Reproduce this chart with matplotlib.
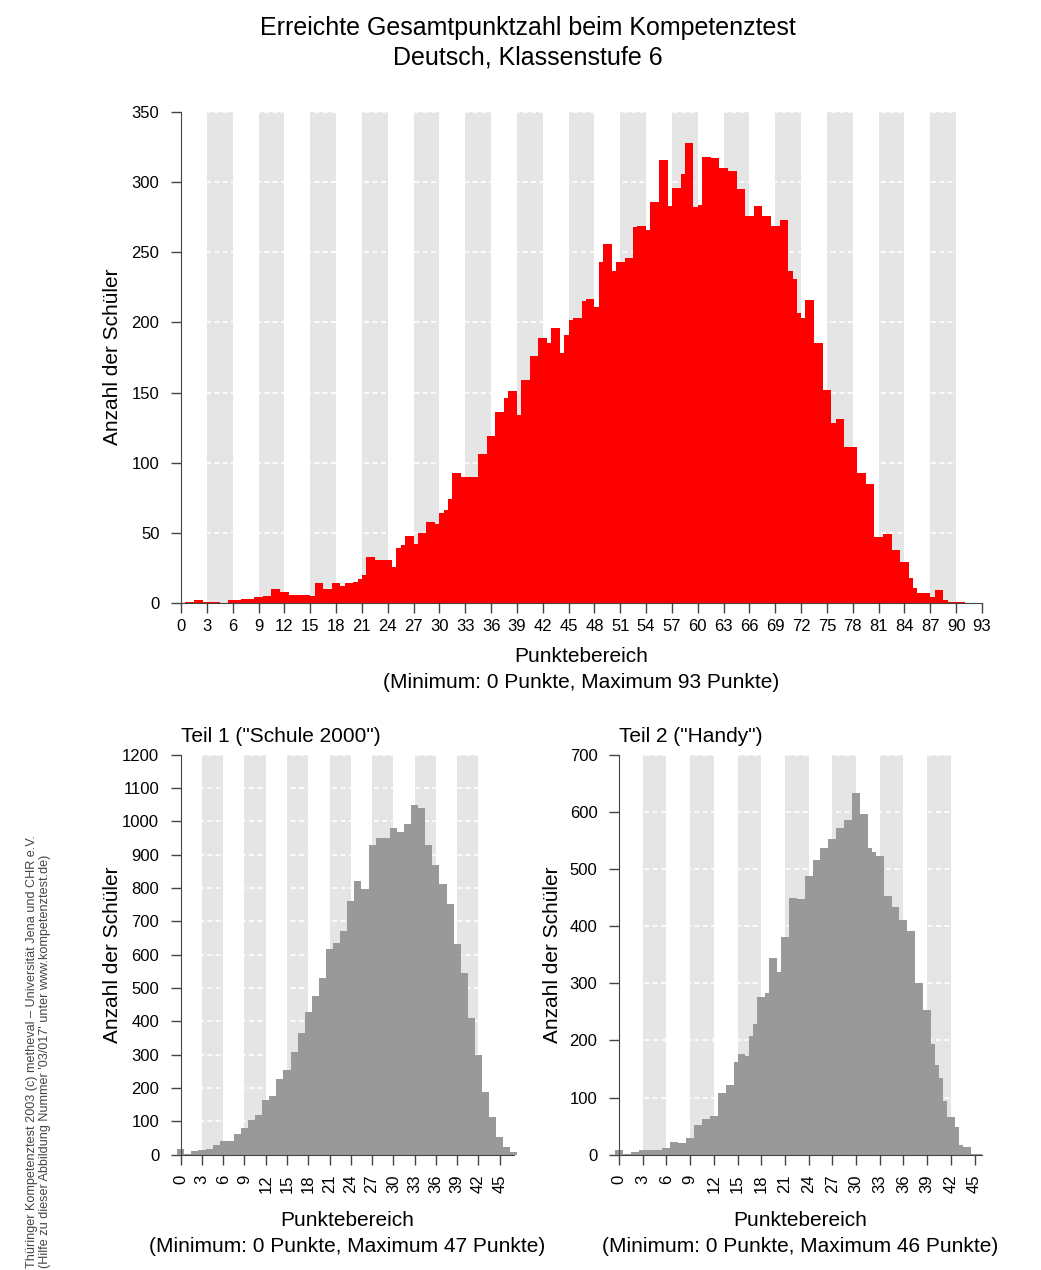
import numpy as np
import matplotlib.pyplot as plt

plt.rcParams['font.family'] = ['Liberation Sans', 'DejaVu Sans']

W, H = 1041, 1270

# Gesamtpunktzahl, counts per half-point bin starting at 0
total_counts = [
    0, 1, 1, 2, 2, 1, 1, 1, 1, 0, 0, 2, 2, 2, 3, 3, 3, 4, 4, 5,
    5, 10, 10, 8, 8, 6, 6, 6, 6, 6, 5, 14, 14, 10, 10, 14, 14, 12, 14, 14,
    15, 17, 20, 33, 33, 31, 31, 31, 31, 26, 39, 41, 48, 48, 42, 50, 50, 58, 58, 56,
    64, 66, 74, 93, 93, 90, 90, 90, 90, 106, 106, 119, 119, 136, 136, 146, 151, 151, 134, 159,
    159, 176, 176, 189, 189, 185, 196, 196, 178, 191, 202, 203, 203, 215, 217, 217, 211, 243, 256, 256,
    237, 243, 243, 246, 246, 268, 269, 269, 266, 286, 286, 316, 316, 283, 296, 296, 306, 328, 328, 282,
    284, 318, 318, 317, 317, 310, 310, 308, 308, 295, 295, 276, 276, 283, 283, 276, 276, 269, 269, 273,
    273, 237, 231, 207, 203, 216, 216, 185, 185, 152, 152, 128, 131, 131, 111, 111, 111, 93, 93, 85,
    85, 47, 47, 49, 49, 38, 38, 29, 29, 18, 11, 7, 7, 7, 4, 9, 9, 2, 1, 1,
    1, 1, 0, 0, 0, 0,
]

# Teil 1 ("Schule 2000"), counts per point 0..47
teil1_counts = [
    17, 3, 11, 14, 17, 29, 41, 41, 62, 80, 105, 119, 164, 176, 227, 254,
    308, 365, 428, 476, 530, 617, 635, 671, 761, 821, 797, 929, 950, 950, 980, 968,
    992, 1049, 1040, 929, 869, 812, 752, 632, 545, 410, 299, 188, 113, 53, 23, 8,
]

# Teil 2 ("Handy"), counts per half-point bin starting at -0.5
teil2_counts = [
    9, 9, 2, 2, 5, 5, 8, 8, 8, 8, 8, 8, 12, 12, 22, 22, 20, 20, 30, 30,
    52, 52, 62, 62, 67, 67, 108, 108, 122, 122, 162, 176, 176, 173, 208, 229, 276, 276, 283, 344,
    344, 320, 381, 381, 449, 449, 447, 447, 488, 488, 516, 516, 537, 537, 552, 552, 572, 572, 586, 586,
    633, 633, 596, 596, 537, 530, 523, 523, 453, 453, 433, 433, 411, 411, 391, 391, 300, 300, 253, 253,
    194, 157, 134, 94, 66, 66, 48, 17, 13, 13, 1, 1, 1,
]

RED = '#FF0000'
GREY = '#999999'
BAND = '#E5E5E5'
AXC = '#444444'

fig = plt.figure(figsize=(W / 100, H / 100), dpi=100)


def px_axes(x0, y0, x1, y1):
    return fig.add_axes([x0 / W, 1 - y1 / H, (x1 - x0) / W, (y1 - y0) / H])


def style_axes(ax, xmax, ymax, ystep, rotate):
    # grey bands every other 3-point interval
    for s in np.arange(3, xmax - 2, 6):
        ax.axvspan(s, s + 3, color=BAND, lw=0, zorder=1)
    for y in np.arange(ystep, ymax + 1, ystep):
        ax.axhline(y, color='white', lw=1.2, ls=(0, (3, 2)), zorder=1.5)

    ax.set_facecolor('none')
    for side in ['top', 'right']:
        ax.spines[side].set_visible(False)
    ax.spines['left'].set_position(('data', 0))
    ax.spines['bottom'].set_position(('data', 0))
    ax.spines['left'].set_bounds(0, ymax)
    ax.spines['bottom'].set_bounds(0, xmax)
    for side in ['left', 'bottom']:
        ax.spines[side].set_color(AXC)
        ax.spines[side].set_zorder(3)

    ax.set_xticks(np.arange(0, xmax + 1, 3))
    ax.set_yticks(np.arange(0, ymax + 1, ystep))
    ax.tick_params(direction='out', length=7.5, width=1, color=AXC, labelsize=12)
    ax.tick_params(axis='y', pad=8)
    if rotate:
        ax.tick_params(axis='x', labelrotation=90, pad=7)
    else:
        ax.tick_params(axis='x', pad=4)


# -----------------------------
# top: Gesamtpunktzahl
# -----------------------------
ax = px_axes(181, 112, 982, 603)
edges = np.arange(len(total_counts) + 1) * 0.5
ax.stairs(total_counts, edges, fill=True, color=RED, lw=0, zorder=2)
ax.set_xlim(0, 93)
ax.set_ylim(0, 350)
style_axes(ax, 93, 350, 50, False)

fig.text(528 / W, 1 - 28 / H, 'Erreichte Gesamtpunktzahl beim Kompetenztest',
         ha='center', va='center', fontsize=18)
fig.text(528 / W, 1 - 58 / H, 'Deutsch, Klassenstufe 6',
         ha='center', va='center', fontsize=18)
fig.text(113 / W, 1 - 357 / H, 'Anzahl der Schüler', rotation=90,
         ha='center', va='center', fontsize=15)
fig.text(581 / W, 1 - 657 / H, 'Punktebereich', ha='center', va='center', fontsize=15)
fig.text(581 / W, 1 - 682 / H, '(Minimum: 0 Punkte, Maximum 93 Punkte)',
         ha='center', va='center', fontsize=15)

# -----------------------------
# bottom left: Teil 1
# -----------------------------
ax1 = px_axes(173.6, 754.7, 521.0, 1154.7)
edges1 = np.arange(len(teil1_counts) + 1) - 0.5
ax1.stairs(teil1_counts, edges1, fill=True, color=GREY, lw=0, zorder=2)
ax1.set_xlim(-1, 48)
ax1.set_ylim(0, 1200)
style_axes(ax1, 47, 1200, 100, True)

fig.text(181 / W, 1 - 737 / H, 'Teil 1 ("Schule 2000")', ha='left', va='center', fontsize=15)
fig.text(113 / W, 1 - 955 / H, 'Anzahl der Schüler', rotation=90,
         ha='center', va='center', fontsize=15)
fig.text(347 / W, 1 - 1221 / H, 'Punktebereich', ha='center', va='center', fontsize=15)
fig.text(347 / W, 1 - 1246 / H, '(Minimum: 0 Punkte, Maximum 47 Punkte)',
         ha='center', va='center', fontsize=15)

# -----------------------------
# bottom right: Teil 2
# -----------------------------
ax2 = px_axes(611.1, 754.7, 990.3, 1154.7)
edges2 = np.arange(len(teil2_counts) + 1) * 0.5 - 0.5
ax2.stairs(teil2_counts, edges2, fill=True, color=GREY, lw=0, zorder=2)
ax2.set_xlim(-1, 47)
ax2.set_ylim(0, 700)
style_axes(ax2, 46, 700, 100, True)

fig.text(619 / W, 1 - 737 / H, 'Teil 2 ("Handy")', ha='left', va='center', fontsize=15)
fig.text(553 / W, 1 - 955 / H, 'Anzahl der Schüler', rotation=90,
         ha='center', va='center', fontsize=15)
fig.text(800 / W, 1 - 1221 / H, 'Punktebereich', ha='center', va='center', fontsize=15)
fig.text(800 / W, 1 - 1246 / H, '(Minimum: 0 Punkte, Maximum 46 Punkte)',
         ha='center', va='center', fontsize=15)

# footer
fig.text(32 / W, 2 / H,
         'Thüringer Kompetenztest 2003 (c) metheval \u2013 Universität Jena und CHR e.V.',
         rotation=90, ha='center', va='bottom', fontsize=9.1, color='#444444')
fig.text(45 / W, 2 / H,
         "(Hilfe zu dieser Abbildung Nummer '03/017' unter www.kompetenztest.de)",
         rotation=90, ha='center', va='bottom', fontsize=9.1, color='#444444')

fig.savefig('out.png', dpi=100)
